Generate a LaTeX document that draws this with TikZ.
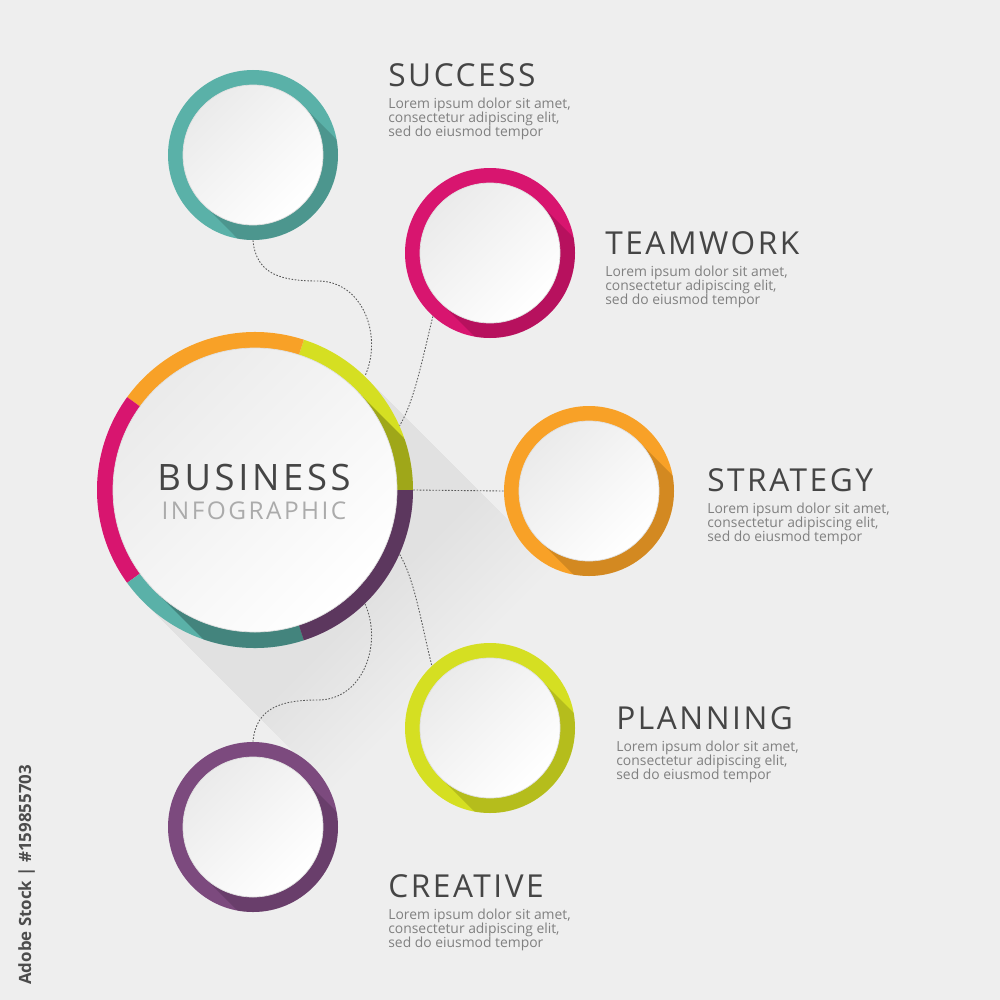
\documentclass[tikz,border=0pt]{standalone}
\usepackage{fontspec}
\setmainfont{Open Sans}
\newfontfamily\spacedfont[LetterSpace=8]{Open Sans}
\newfontfamily\widefont[LetterSpace=10]{Open Sans}
\usetikzlibrary{positioning,calc}
\definecolor{bgc}{HTML}{EEEEEE}
\definecolor{tealc}{HTML}{5AB1A8}
\definecolor{magentac}{HTML}{D8156F}
\definecolor{orangec}{HTML}{F8A127}
\definecolor{limec}{HTML}{D5DF22}
\definecolor{purplec}{HTML}{7C4A7E}
\definecolor{headc}{HTML}{454545}
\definecolor{loremc}{HTML}{808080}
\definecolor{subc}{HTML}{ABABAB}
\tikzset{
	ring/.style={circle, minimum size=34mm, inner sep=0pt, fill=#1},
	disc/.style={circle, minimum size=28mm, inner sep=0pt, draw=gray!25, line width=.4pt, top color=gray!16, bottom color=white, shading angle=45},
	head/.style={anchor=base west, inner sep=0pt, text=headc, font=\spacedfont\fontsize{18}{20}\selectfont},
	lorem/.style={inner sep=0pt, text=loremc, align=left, font=\fontsize{7.9}{7.97}\selectfont},
	link/.style={draw=black!65, line width=.5pt, dash pattern=on .9pt off .9pt},
}
\begin{document}
\begin{tikzpicture}[x=0.2mm, y=0.2mm]
	\useasboundingbox (0,0) rectangle (1000,-1000);
	\fill[bgc] (0,0) rectangle (1000,-1000);
	% hub
	\node[circle, minimum size=63.2mm, inner sep=0pt] (hub) at (255,-490) {};
	\foreach \L in {115,121,...,187}
		\fill[black, opacity=.0035] ($(hub.center)+(111.7,111.7)$) -- ++(\L,-\L) -- ++(-223.4,-223.4) -- ($(hub.center)+(-111.7,-111.7)$) -- cycle;
	\foreach \a/\c in {0/limec, 72/orangec, 144/magentac, 216/tealc, 288/purplec}
		\fill[\c] (hub.center) -- ++(\a:31.6mm) arc[start angle=\a, delta angle=72, radius=31.6mm] -- cycle;
	\begin{scope}
		\clip (hub.center) circle (31.6mm);
		\fill[black, opacity=.25] ($(hub.center)+(100.4,100.4)$) -- ++(150,-150) -- ++(-200.8,-200.8) -- ($(hub.center)+(-100.4,-100.4)$) -- cycle;
	\end{scope}
	\node[disc, minimum size=56.8mm] (hub-disc) at (hub) {};
	\node[anchor=base, inner sep=0pt, text=headc, font=\widefont\fontsize{20.7}{22}\selectfont] (business) at (254,-490) {BUSINESS};
	\node[anchor=base, inner sep=0pt, text=subc, font=\widefont\fontsize{13.9}{15}\selectfont] (infographic) at (254,-519) {INFOGRAPHIC};
	% items
	\foreach \n/\x/\y/\c in {success/253/155/tealc, teamwork/490/253/magentac, strategy/589/491/orangec, planning/490/728/limec, creative/253/827/purplec} {
		\node[ring=\c] (\n) at (\x,-\y) {};
		\begin{scope}
			\clip (\n.center) circle (17mm);
			\fill[black, opacity=.15] ($(\n.center)+(49.5,49.5)$) -- ++(120,-120) -- ++(-99,-99) -- ($(\n.center)+(-49.5,-49.5)$) -- cycle;
		\end{scope}
		\node[disc] (\n-disc) at (\n) {};
	}
	\foreach \n/\x/\y/\t in {success/388/86/SUCCESS, teamwork/605/254/TEAMWORK, strategy/707/491/STRATEGY, planning/616/729/PLANNING, creative/388/897/CREATIVE} {
		\node[head] (\n-t) at (\x,-\y) {\t};
		\node[lorem, below=2.2mm of \n-t.south west, anchor=north west] (\n-l) {Lorem ipsum dolor sit amet,\\consectetur adipiscing elit,\\sed do eiusmod tempor};
	}
	% links
	\coordinate (w1) at (318,-281);
	\coordinate (w2) at (318,-700);
	\draw[link] (success.south) .. controls +(3,-35) and +(-35,0) .. (w1) .. controls +(45,0) and +(18,40) .. (hub.46);
	\draw[link] (teamwork.228) .. controls +(-10,-40) and +(15,25) .. (hub.24);
	\draw[link] (hub.east) -- (strategy.west);
	\draw[link] (hub.-24) .. controls +(15,-25) and +(-10,40) .. (planning.133);
	\draw[link] (hub.-46) .. controls +(18,-40) and +(45,0) .. (w2) .. controls +(-35,0) and +(3,35) .. (creative.north);
	\node[rotate=90, anchor=base west, inner sep=0pt, text=black!70, font=\bfseries\fontsize{9.6}{10}\selectfont] (stock-id) at (31,-985) {Adobe Stock | \#159855703};
\end{tikzpicture}
\end{document}
